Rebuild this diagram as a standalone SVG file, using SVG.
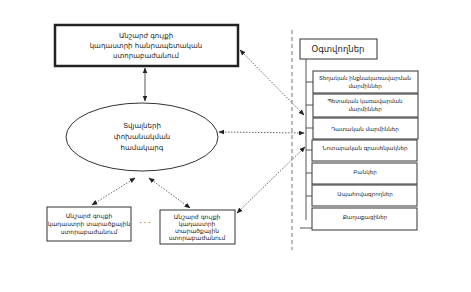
<svg xmlns="http://www.w3.org/2000/svg" width="471" height="292" viewBox="0 0 471 292">
<style>
text{font-family:"DejaVu Sans","Noto Sans",sans-serif;fill:#222;text-anchor:middle}
.box{fill:#fff;stroke:#333;stroke-width:1}
.thick{fill:#fff;stroke:#222;stroke-width:2.5}
.dot{fill:none;stroke:#555;stroke-width:0.9;stroke-dasharray:1.5 1.5}
.solid{fill:none;stroke:#444;stroke-width:0.9}
.dash{fill:none;stroke:#666;stroke-width:0.9;stroke-dasharray:4 3}
.t7{font-size:7px}
.t6{font-size:6px}
.t55{font-size:5.5px}
.t85{font-size:8.5px}
</style>
<defs>
<marker id="ah" viewBox="0 0 10 10" refX="9" refY="5" markerWidth="6" markerHeight="6" orient="auto-start-reverse" markerUnits="userSpaceOnUse">
<path d="M0,1 L10,5 L0,9 z" fill="#222"/>
</marker>
</defs>
<rect width="471" height="292" fill="#fff"/>

<g id="top-unit">
<rect class="thick" x="55" y="25" width="183" height="41"/>
<text class="t7" x="146" y="38">Անշարժ գույքի</text>
<text class="t7" x="146" y="48">կադաստրի հանրապետական</text>
<text class="t7" x="146" y="58">ստորաբաժանում</text>
</g>

<g id="exchange">
<ellipse cx="142" cy="137" rx="76" ry="34" fill="#fff" stroke="#333" stroke-width="1"/>
<text class="t7" x="142" y="128">Տվյալների</text>
<text class="t7" x="142" y="139">փոխանակման</text>
<text class="t7" x="142" y="150">համակարգ</text>
</g>

<g id="unit-1">
<rect class="box" x="47" y="207" width="84" height="34"/>
<text class="t6" x="89" y="218">Անշարժ գույքի</text>
<text class="t6" x="89" y="226">կադաստրի տարածքային</text>
<text class="t6" x="89" y="234">ստորաբաժանում</text>
</g>

<g id="dots"><text class="t7" x="145" y="225">· · ·</text></g>

<g id="unit-n">
<rect class="box" x="160" y="210" width="75" height="34"/>
<text class="t6" x="197" y="219">Անշարժ գույքի</text>
<text class="t6" x="197" y="226">կադաստրի</text>
<text class="t6" x="197" y="233">տարածքային</text>
<text class="t6" x="197" y="240">ստորաբաժանում</text>
</g>

<g id="users">
<rect class="box" x="300" y="39" width="77" height="20"/>
<text class="t85" x="338" y="52">Օգտվողներ</text>
</g>

<g id="user-boxes">
<rect class="box" x="313" y="71" width="105" height="22"/>
<text class="t55" x="365" y="80">Տեղական ինքնակառավարման</text>
<text class="t55" x="365" y="88">մարմիններ</text>
<rect class="box" x="313" y="94" width="105" height="23"/>
<text class="t55" x="365" y="103">Պետական կառավարման</text>
<text class="t55" x="365" y="111">մարմիններ</text>
<rect class="box" x="313" y="118" width="105" height="21"/>
<text class="t55" x="365" y="131">Դատական մարմիններ</text>
<rect class="box" x="312" y="140" width="105" height="21"/>
<text class="t55" x="365" y="150">Նոտարական գրասենյակներ</text>
<rect class="box" x="312" y="163" width="105" height="21"/>
<text class="t55" x="365" y="174">Բանկեր</text>
<rect class="box" x="312" y="185" width="105" height="21"/>
<text class="t55" x="365" y="196">Ապահովագրողներ</text>
<rect class="box" x="312" y="208" width="105" height="22"/>
<text class="t55" x="365" y="219">Քաղաքացիներ</text>
</g>

<g id="connectors">
<line class="dash" x1="292" y1="30" x2="292" y2="250"/>
<line class="solid" x1="306" y1="59" x2="306" y2="220"/>
<line class="solid" x1="306" y1="82" x2="313" y2="82"/>
<line class="solid" x1="306" y1="105" x2="313" y2="105"/>
<line class="solid" x1="306" y1="128" x2="313" y2="128"/>
<line class="solid" x1="306" y1="150" x2="312" y2="150"/>
<line class="solid" x1="306" y1="173" x2="312" y2="173"/>
<line class="solid" x1="306" y1="196" x2="312" y2="196"/>
<line class="solid" x1="300" y1="228" x2="312" y2="228"/>
<line class="solid" x1="145" y1="68" x2="145" y2="101" marker-start="url(#ah)" marker-end="url(#ah)"/>
<line class="dot" x1="240" y1="50" x2="304" y2="115" marker-start="url(#ah)" marker-end="url(#ah)"/>
<line class="dot" x1="219" y1="132" x2="304" y2="133" marker-start="url(#ah)" marker-end="url(#ah)"/>
<line class="dot" x1="237" y1="213" x2="305" y2="147" marker-start="url(#ah)" marker-end="url(#ah)"/>
<line class="dot" x1="135" y1="178" x2="92" y2="205" marker-start="url(#ah)" marker-end="url(#ah)"/>
<line class="dot" x1="149" y1="178" x2="190" y2="208" marker-start="url(#ah)" marker-end="url(#ah)"/>
</g>
</svg>
